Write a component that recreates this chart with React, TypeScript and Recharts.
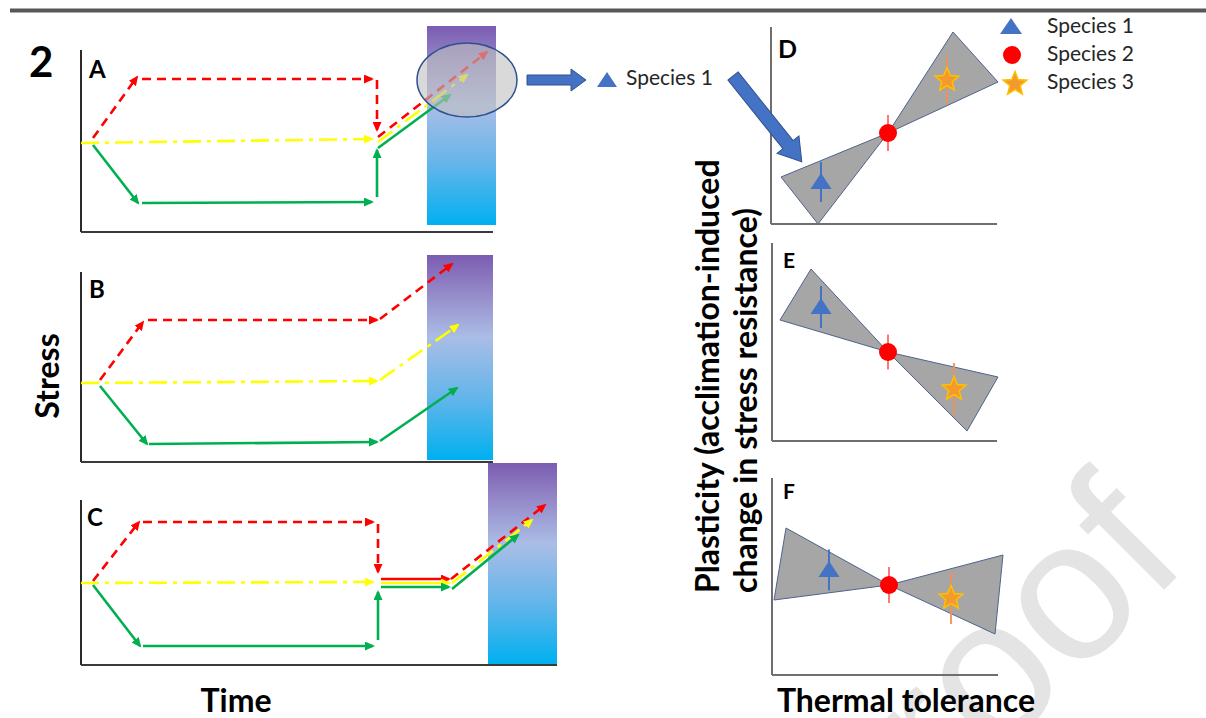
import React from 'react';
import {
  ComposedChart,
  Line,
  XAxis,
  YAxis,
  ReferenceArea,
  ReferenceLine,
  Scatter,
  ErrorBar,
} from 'recharts';

type Pt = { t: number; s: number };
type Seg = { pts: Pt[]; solid?: boolean };

// ---------- Panel A (time units, stress units) ----------
const aRed: Seg[] = [
  { pts: [{ t: 1.2, s: 9.4 }, { t: 5.6, s: 15.5 }] },
  { pts: [{ t: 6.1, s: 15.3 }, { t: 29.1, s: 15.3 }] },
  { pts: [{ t: 29.6, s: 15.2 }, { t: 29.6, s: 10.2 }] },
  { pts: [{ t: 29.7, s: 9.5 }, { t: 40.6, s: 18.0 }] },
];
const aYellow: Seg[] = [
  { pts: [{ t: 0, s: 8.9 }, { t: 29.1, s: 9.3 }] },
  { pts: [{ t: 29.7, s: 9.0 }, { t: 38.6, s: 15.7 }] },
];
const aGreen: Seg[] = [
  { pts: [{ t: 1.2, s: 8.7 }, { t: 5.7, s: 2.9 }] },
  { pts: [{ t: 6.1, s: 2.9 }, { t: 29.1, s: 3.0 }] },
  { pts: [{ t: 29.6, s: 3.5 }, { t: 29.6, s: 8.2 }] },
  { pts: [{ t: 29.7, s: 8.4 }, { t: 36.9, s: 13.7 }] },
];
const aBand = { t1: 34.6, t2: 41.5, s1: 0.7, s2: 20.6 };
const aCircle = { t1: 33.6, t2: 43.6, s1: 11.5, s2: 18.9 };
const aAxes = { tMax: 41.2, sMax: 18.2 };

// ---------- Panel B ----------
const bRed: Seg[] = [
  { pts: [{ t: 1.9, s: 8.2 }, { t: 6.2, s: 14.0 }] },
  { pts: [{ t: 6.7, s: 14.2 }, { t: 29.6, s: 14.2 }] },
  { pts: [{ t: 29.9, s: 14.3 }, { t: 37.1, s: 19.8 }] },
];
const bYellow: Seg[] = [
  { pts: [{ t: 0, s: 7.9 }, { t: 29.6, s: 8.1 }] },
  { pts: [{ t: 29.9, s: 8.2 }, { t: 37.7, s: 13.7 }] },
];
const bGreen: Seg[] = [
  { pts: [{ t: 1.9, s: 7.6 }, { t: 6.6, s: 1.8 }] },
  { pts: [{ t: 6.8, s: 1.8 }, { t: 29.6, s: 2.0 }] },
  { pts: [{ t: 29.9, s: 2.1 }, { t: 37.6, s: 7.4 }] },
];
const bBand = { t1: 34.6, t2: 41.2, s1: 0.2, s2: 20.7 };
const bAxes = { tMax: 41.2, sMax: 19.0 };

// ---------- Panel C ----------
const cRed: Seg[] = [
  { pts: [{ t: 1.2, s: 8.4 }, { t: 5.8, s: 14.3 }] },
  { pts: [{ t: 6.2, s: 14.3 }, { t: 29.2, s: 14.3 }] },
  { pts: [{ t: 29.7, s: 14.1 }, { t: 29.7, s: 9.3 }] },
  { pts: [{ t: 30.0, s: 8.6 }, { t: 36.8, s: 8.6 }], solid: true },
  { pts: [{ t: 37.0, s: 8.6 }, { t: 46.4, s: 16.0 }] },
];
const cYellow: Seg[] = [
  { pts: [{ t: 0, s: 8.2 }, { t: 29.2, s: 8.3 }] },
  { pts: [{ t: 30.0, s: 8.2 }, { t: 36.8, s: 8.2 }], solid: true },
  { pts: [{ t: 37.1, s: 8.2 }, { t: 45.1, s: 14.5 }] },
];
const cGreen: Seg[] = [
  { pts: [{ t: 1.2, s: 8.0 }, { t: 5.9, s: 1.9 }] },
  { pts: [{ t: 6.2, s: 1.9 }, { t: 29.2, s: 1.9 }] },
  { pts: [{ t: 29.7, s: 2.5 }, { t: 29.7, s: 7.3 }] },
  { pts: [{ t: 30.0, s: 7.8 }, { t: 36.8, s: 7.8 }] },
  { pts: [{ t: 37.1, s: 7.6 }, { t: 43.7, s: 13.0 }] },
];
const cBand = { t1: 40.7, t2: 47.6, s1: 0.1, s2: 20.2 };
const cAxes = { tMax: 47.6, sMax: 16.5 };

// ---------- Right panels (thermal tolerance x, plasticity y) ----------
type V = { x: number; y: number };
const dTriangles: V[][] = [
  [{ x: 1.0, y: 4.7 }, { x: 4.7, y: 0.0 }, { x: 11.7, y: 9.1 }],
  [{ x: 11.7, y: 9.1 }, { x: 18.2, y: 19.2 }, { x: 22.7, y: 14.2 }],
];
const dSp1 = [{ x: 5.0, y: 4.2, e: 2.0 }];
const dSp2 = [{ x: 11.7, y: 9.1, e: 1.8 }];
const dSp3 = [{ x: 17.6, y: 14.4, e: 2.5 }];
const dAxes = { xMax: 22.6, yMax: 19.7 };

const eTriangles: V[][] = [
  [{ x: 0.8, y: 12.1 }, { x: 3.9, y: 17.2 }, { x: 11.6, y: 8.9 }],
  [{ x: 11.6, y: 8.9 }, { x: 22.6, y: 6.4 }, { x: 19.5, y: 1.0 }],
];
const eSp1 = [{ x: 4.9, y: 13.4, e: 2.1 }];
const eSp2 = [{ x: 11.6, y: 8.9, e: 1.75 }];
const eSp3 = [{ x: 18.2, y: 5.2, e: 2.6 }];
const eAxes = { xMax: 22.5, yMax: 19.8 };

const fTriangles: V[][] = [
  [{ x: 0.2, y: 7.5 }, { x: 1.4, y: 14.7 }, { x: 11.7, y: 9.0 }],
  [{ x: 11.7, y: 9.0 }, { x: 23.1, y: 12.0 }, { x: 22.3, y: 4.1 }],
];
const fSp1 = [{ x: 5.7, y: 10.5, e: 2.05 }];
const fSp2 = [{ x: 11.7, y: 9.0, e: 1.8 }];
const fSp3 = [{ x: 17.9, y: 7.7, e: 2.6 }];
const fAxes = { xMax: 22.6, yMax: 19.7 };

const legendLabels = ['Species 1', 'Species 2', 'Species 3'];

// ---------- styles ----------
const FONT = 'Lato, "Open Sans", sans-serif';
const RED = '#ff0000';
const YELLOW = '#ffff00';
const GREEN = '#00b050';
const BLUE = '#4472c4';
const PAD = 8;

const triShape = (p: any) => (
  <path
    d={`M${p.cx},${p.cy - 9} L${p.cx + 10.5},${p.cy + 7} L${p.cx - 10.5},${p.cy + 7} Z`}
    fill={BLUE}
  />
);
const dotShape = (p: any) => <circle cx={p.cx} cy={p.cy} r={9} fill={RED} />;
const starPath = (cx: number, cy: number, ro: number, ri: number) => {
  let d = '';
  for (let i = 0; i < 10; i++) {
    const r = i % 2 === 0 ? ro : ri;
    const a = -Math.PI / 2 + (i * Math.PI) / 5;
    d += `${i === 0 ? 'M' : 'L'}${cx + r * Math.cos(a)},${cy + r * Math.sin(a)} `;
  }
  return d + 'Z';
};
const starShape = (p: any) => (
  <path d={starPath(p.cx, p.cy, 12.5, 5.5)} fill="#f29a2e" stroke="#ffc000" strokeWidth={1.5} />
);

const ellipseShape = (p: any) => (
  <ellipse
    cx={p.x + p.width / 2}
    cy={p.y + p.height / 2}
    rx={p.width / 2}
    ry={p.height / 2}
    fill="#bfbfbf"
    fillOpacity={0.6}
    stroke="#2f4f8f"
    strokeWidth={1.5}
  />
);

const polyShape = (verts: V[]) => {
  const xs = verts.map((v) => v.x);
  const ys = verts.map((v) => v.y);
  const x1 = Math.min(...xs);
  const x2 = Math.max(...xs);
  const y1 = Math.min(...ys);
  const y2 = Math.max(...ys);
  const shape = (p: any) => {
    const pts = verts
      .map((v) => {
        const px = p.x + ((v.x - x1) / (x2 - x1)) * p.width;
        const py = p.y + ((y2 - v.y) / (y2 - y1)) * p.height;
        return `${px},${py}`;
      })
      .join(' ');
    return <polygon points={pts} fill="#a6a6a6" stroke="#4d648d" strokeWidth={1} />;
  };
  return { x1, x2, y1, y2, shape };
};

function segLines(id: string, segs: Seg[], color: string, pattern: string) {
  return segs.map((seg, i) => (
    <Line
      key={`${id}-${color}-${i}`}
      data={seg.pts}
      dataKey="s"
      type="linear"
      stroke={color}
      strokeWidth={2.6}
      strokeDasharray={seg.solid ? undefined : pattern}
      dot={false}
      activeDot={false}
      isAnimationActive={false}
      legendType="none"
      markerEnd={`url(#${id}-${color.slice(1)})`}
    />
  ));
}

function markerDefs(id: string) {
  return [RED, YELLOW, GREEN].map((c) => (
    <marker
      key={c}
      id={`${id}-${c.slice(1)}`}
      viewBox="0 0 10 9"
      refX={8}
      refY={4.5}
      markerWidth={10}
      markerHeight={9}
      markerUnits="userSpaceOnUse"
      orient="auto"
    >
      <path d="M0,0 L10,4.5 L0,9 Z" fill={c} />
    </marker>
  ));
}

function LeftPanel(props: {
  id: string;
  x0: number;
  bottom: number;
  w: number;
  h: number;
  red: Seg[];
  yellow: Seg[];
  green: Seg[];
  band: { t1: number; t2: number; s1: number; s2: number };
  axes: { tMax: number; sMax: number };
  circle?: { t1: number; t2: number; s1: number; s2: number };
}) {
  const { id, x0, bottom, w, h, red, yellow, green, band, axes, circle } = props;
  return (
    <div style={{ position: 'absolute', left: x0 - PAD, top: bottom - h - PAD }}>
      <ComposedChart
        width={w + 2 * PAD}
        height={h + 2 * PAD}
        margin={{ top: PAD, right: PAD, bottom: PAD, left: PAD }}
      >
        <defs>
          {markerDefs(id)}
          <linearGradient id={`${id}-grad`} x1="0" y1="0" x2="0" y2="1">
            <stop offset="0" stopColor="#7b5cb1" />
            <stop offset="0.18" stopColor="#9488c8" />
            <stop offset="0.4" stopColor="#aabde6" />
            <stop offset="0.7" stopColor="#62b5ea" />
            <stop offset="1" stopColor="#00b0f0" />
          </linearGradient>
        </defs>
        <XAxis type="number" dataKey="t" domain={[0, w / 10]} hide />
        <YAxis type="number" dataKey="s" domain={[0, h / 10]} hide />
        <ReferenceArea
          x1={band.t1}
          x2={band.t2}
          y1={band.s1}
          y2={band.s2}
          fill={`url(#${id}-grad)`}
          fillOpacity={1}
          stroke="none"
          ifOverflow="visible"
        />
        <ReferenceLine
          segment={[{ x: 0, y: 0 }, { x: 0, y: axes.sMax }]}
          stroke="#2b2b2b"
          strokeWidth={2}
          ifOverflow="visible"
        />
        <ReferenceLine
          segment={[{ x: 0, y: 0 }, { x: axes.tMax, y: 0 }]}
          stroke="#3a3a3a"
          strokeWidth={2.2}
          ifOverflow="visible"
        />
        {segLines(id, red, RED, '9 6')}
        {segLines(id, yellow, YELLOW, '18 6 4 6')}
        {segLines(id, green, GREEN, '')}
        {circle ? (
          <ReferenceArea
            x1={circle.t1}
            x2={circle.t2}
            y1={circle.s1}
            y2={circle.s2}
            shape={ellipseShape}
            ifOverflow="visible"
            zIndex={900}
          />
        ) : null}
      </ComposedChart>
    </div>
  );
}

function RightPanel(props: {
  x0: number;
  bottom: number;
  tris: V[][];
  sp1: any[];
  sp2: any[];
  sp3: any[];
  axes: { xMax: number; yMax: number };
}) {
  const { x0, bottom, tris, sp1, sp2, sp3, axes } = props;
  const w = 240;
  const h = 200;
  return (
    <div style={{ position: 'absolute', left: x0 - PAD, top: bottom - h - PAD }}>
      <ComposedChart
        width={w + 2 * PAD}
        height={h + 2 * PAD}
        margin={{ top: PAD, right: PAD, bottom: PAD, left: PAD }}
      >
        <XAxis type="number" dataKey="x" domain={[0, w / 10]} hide />
        <YAxis type="number" dataKey="y" domain={[0, h / 10]} hide />
        <ReferenceLine
          segment={[{ x: 0, y: 0 }, { x: 0, y: axes.yMax }]}
          stroke="#6f6f6f"
          strokeWidth={2}
          ifOverflow="visible"
        />
        <ReferenceLine
          segment={[{ x: 0, y: 0 }, { x: axes.xMax, y: 0 }]}
          stroke="#6f6f6f"
          strokeWidth={2}
          ifOverflow="visible"
        />
        {tris.map((t, i) => {
          const p = polyShape(t);
          return (
            <ReferenceArea
              key={i}
              x1={p.x1}
              x2={p.x2}
              y1={p.y1}
              y2={p.y2}
              shape={p.shape}
              ifOverflow="visible"
            />
          );
        })}
        <Scatter data={sp1} shape={triShape} isAnimationActive={false} legendType="none">
          <ErrorBar dataKey="e" direction="y" width={0} stroke={BLUE} strokeWidth={2} />
        </Scatter>
        <Scatter data={sp2} shape={dotShape} isAnimationActive={false} legendType="none">
          <ErrorBar dataKey="e" direction="y" width={0} stroke="#ff7878" strokeWidth={2} />
        </Scatter>
        <Scatter data={sp3} shape={starShape} isAnimationActive={false} legendType="none">
          <ErrorBar dataKey="e" direction="y" width={0} stroke="#f0905a" strokeWidth={1.8} />
        </Scatter>
      </ComposedChart>
    </div>
  );
}

export default function App() {
  const bold = { fontFamily: FONT, fontWeight: 700, fill: '#000' } as const;
  return (
    <div
      style={{
        position: 'absolute',
        left: 0,
        top: 0,
        width: 1206,
        height: 718,
        background: '#fff',
        overflow: 'hidden',
      }}
    >
      {/* watermark */}
      <svg width={1206} height={718} style={{ position: 'absolute', left: 0, top: 0 }}>
        <text
          x={1191}
          y={563}
          fontSize={200}
          fontFamily='"Liberation Sans", Arial, sans-serif'
          fill="#e4e4e4"
          textAnchor="end"
          transform="rotate(-45 1191 563)"
        >
          Pre-proof
        </text>
      </svg>

      <LeftPanel id="pa" x0={81} bottom={232} w={450} h={210} red={aRed} yellow={aYellow} green={aGreen} band={aBand} axes={aAxes} circle={aCircle} />
      <LeftPanel id="pb" x0={81} bottom={462} w={450} h={210} red={bRed} yellow={bYellow} green={bGreen} band={bBand} axes={bAxes} />
      <LeftPanel id="pc" x0={81} bottom={665} w={490} h={210} red={cRed} yellow={cYellow} green={cGreen} band={cBand} axes={cAxes} />

      <RightPanel x0={771} bottom={224} tris={dTriangles} sp1={dSp1} sp2={dSp2} sp3={dSp3} axes={dAxes} />
      <RightPanel x0={772} bottom={441} tris={eTriangles} sp1={eSp1} sp2={eSp2} sp3={eSp3} axes={eAxes} />
      <RightPanel x0={772} bottom={675} tris={fTriangles} sp1={fSp1} sp2={fSp2} sp3={fSp3} axes={fAxes} />

      {/* annotations */}
      <svg
        width={1206}
        height={718}
        style={{ position: 'absolute', left: 0, top: 0, pointerEvents: 'none' }}
      >
        <line x1={10} y1={10.5} x2={1206} y2={10.5} stroke="#575757" strokeWidth={4} />
        <text x={29} y={77} fontSize={42} {...bold}>2</text>
        <text x={89} y={78} fontSize={24} {...bold}>A</text>
        <text x={89} y={298} fontSize={24} {...bold}>B</text>
        <text x={87} y={526} fontSize={24} {...bold}>C</text>
        <text x={778} y={58} fontSize={25} {...bold}>D</text>
        <text x={783} y={268} fontSize={21} {...bold}>E</text>
        <text x={783} y={499} fontSize={21} {...bold}>F</text>

        <text x={59} y={376} fontSize={32} textAnchor="middle" transform="rotate(-90 59 376)" {...bold}>
          Stress
        </text>
        <text x={236} y={712} fontSize={32} textAnchor="middle" {...bold}>Time</text>
        <text x={906} y={712} fontSize={32} textAnchor="middle" {...bold}>Thermal tolerance</text>
        <text x={719} y={593} fontSize={32} transform="rotate(-90 719 593)" {...bold}>
          Plasticity (acclimation-induced
        </text>
        <text x={757} y={593} fontSize={32} transform="rotate(-90 757 593)" {...bold}>
          change in stress resistance)
        </text>

        {/* block arrows */}
        <polygon
          points="527,75 571,75 571,69 586,80 571,91 571,85 527,85"
          fill={BLUE}
          stroke="#2f528f"
          strokeWidth={1}
        />
        <g transform="translate(733,76) rotate(51.3)">
          <polygon
            points="0,-6.5 88,-6.5 88,-14 110,0 88,14 88,6.5 0,6.5"
            fill={BLUE}
            stroke="#2f528f"
            strokeWidth={1}
          />
        </g>

        {/* Species 1 callout */}
        <path d="M607,72 L617,87 L597,87 Z" fill={BLUE} />
        <text x={626} y={85} fontSize={21} fontFamily={FONT} fill="#262626">
          Species 1
        </text>

        {/* legend */}
        <path d="M1011,18 L1022,34 L1000,34 Z" fill={BLUE} />
        <circle cx={1012} cy={55} r={9} fill={RED} />
        <path d={starPath(1015, 84, 12.5, 5.5)} fill="#f29a2e" stroke="#ffc000" strokeWidth={1.5} />
        {legendLabels.map((l, i) => (
          <text key={l} x={1047} y={33 + i * 28} fontSize={21} fontFamily={FONT} fill="#262626">
            {l}
          </text>
        ))}
      </svg>
    </div>
  );
}
